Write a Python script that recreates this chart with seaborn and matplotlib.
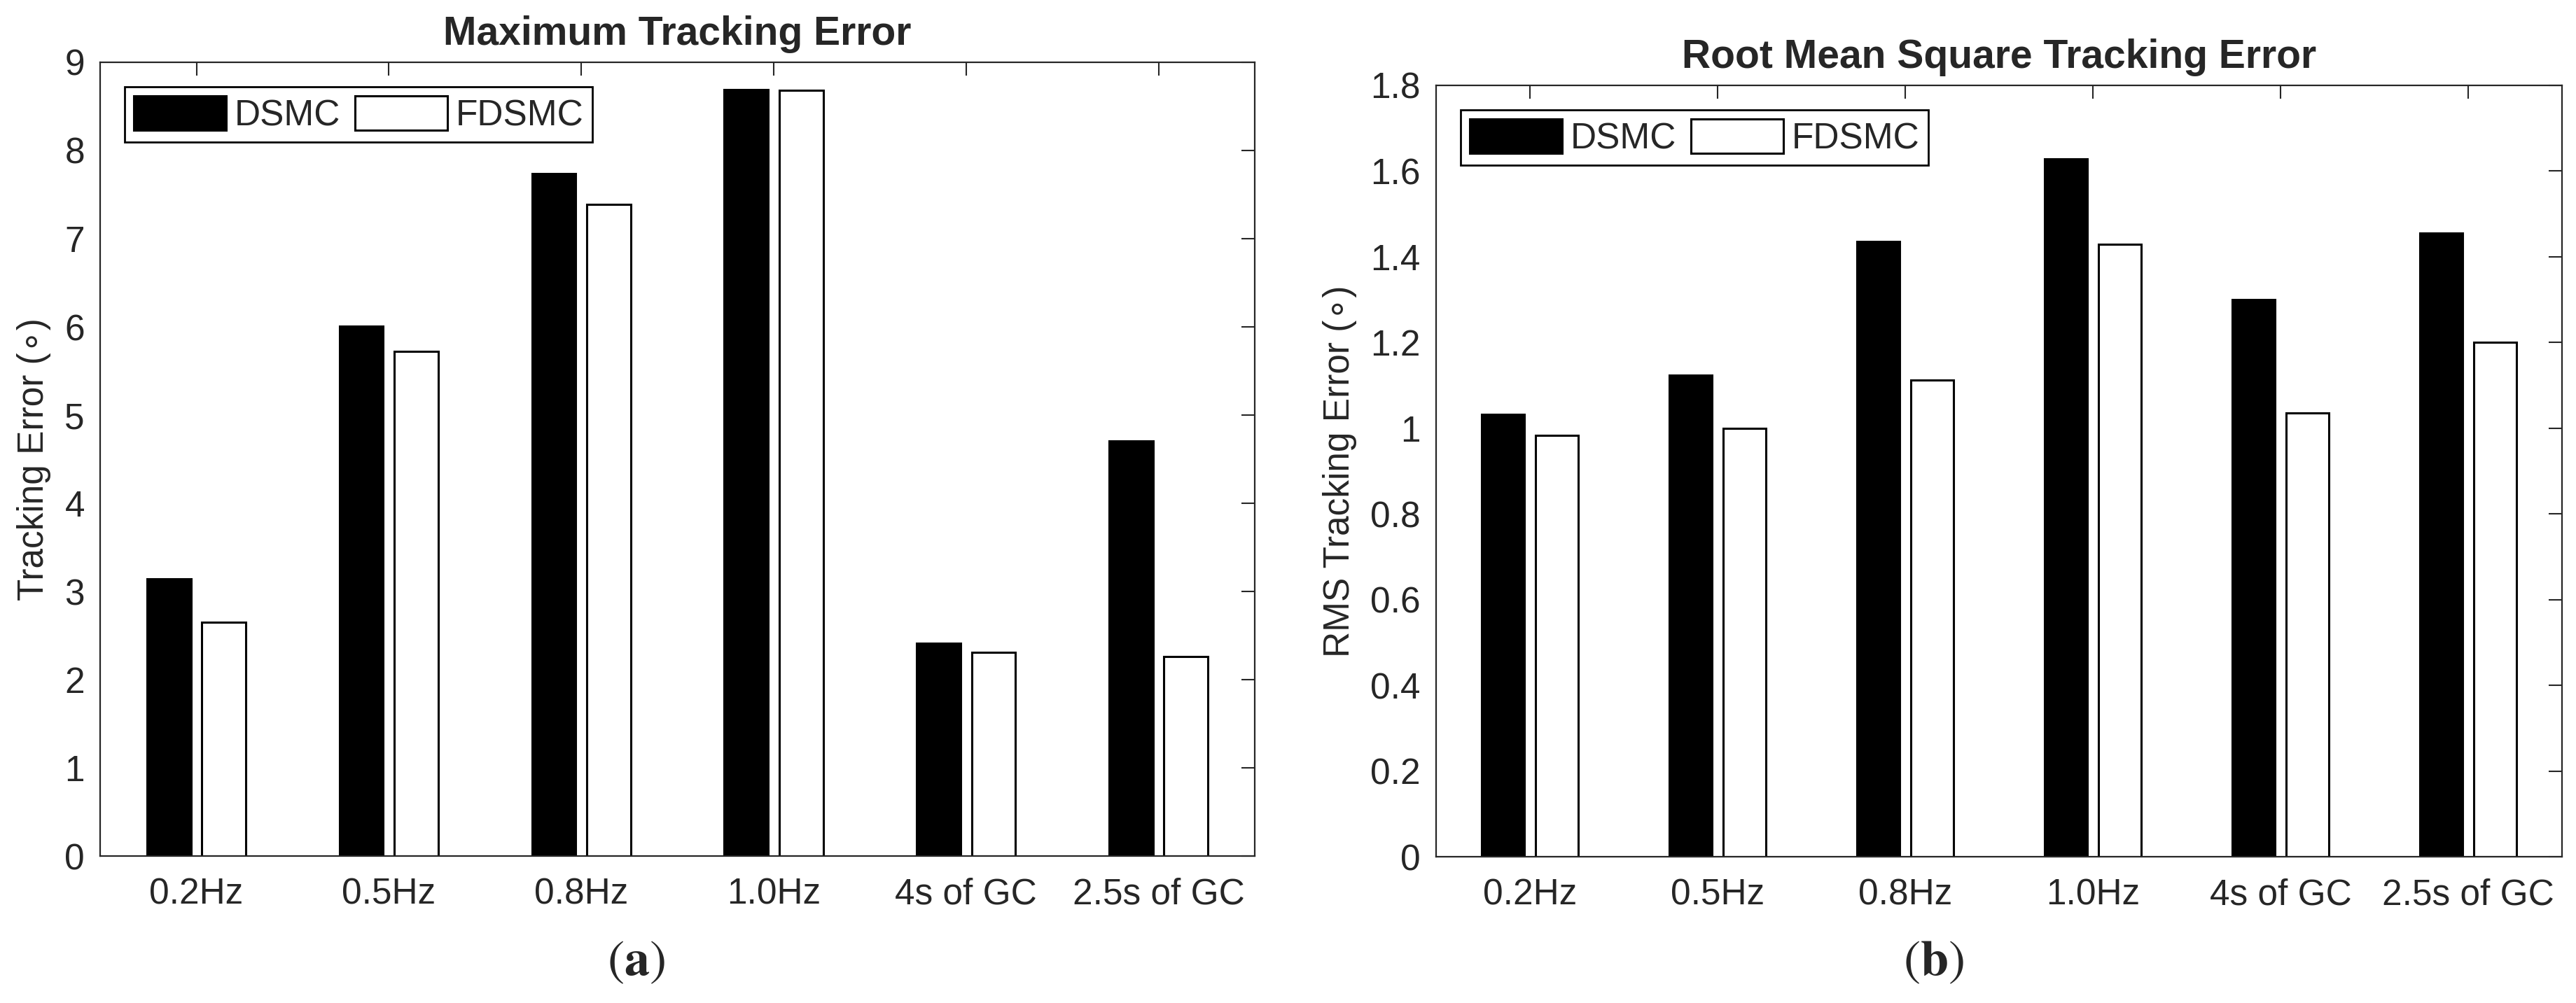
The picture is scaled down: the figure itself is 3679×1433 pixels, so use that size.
import pandas as pd
import matplotlib
matplotlib.use('Agg')
import matplotlib.pyplot as plt
import seaborn as sns
from matplotlib.ticker import FuncFormatter

conditions = ['0.2Hz', '0.5Hz', '0.8Hz', '1.0Hz', '4s of GC', '2.5s of GC']
methods = ['DSMC', 'FDSMC']

# maximum tracking error (deg)
max_dsmc = [3.14, 6.01, 7.74, 8.69, 2.41, 4.71]
max_fdsmc = [2.65, 5.72, 7.39, 8.68, 2.31, 2.26]

# root mean square tracking error (deg)
rms_dsmc = [1.033, 1.124, 1.436, 1.628, 1.300, 1.456]
rms_fdsmc = [0.984, 1.000, 1.113, 1.429, 1.036, 1.200]

max_ticks = [0, 1, 2, 3, 4, 5, 6, 7, 8, 9]
rms_ticks = [0, 0.2, 0.4, 0.6, 0.8, 1.0, 1.2, 1.4, 1.6, 1.8]

sns.set_style('white')
plt.rcParams['font.family'] = ['Liberation Sans', 'DejaVu Sans']

GREY = '#262626'
FS = 37


def long_table(dsmc, fdsmc):
    return pd.DataFrame({
        'Condition': conditions * 2,
        'Method': [methods[0]] * len(dsmc) + [methods[1]] * len(fdsmc),
        'Value': dsmc + fdsmc,
    })


def draw_panel(ax, df, ticks, title, ylabel):
    sns.barplot(data=df, x='Condition', y='Value', hue='Method',
                palette={'DSMC': 'black', 'FDSMC': 'white'},
                edgecolor='black', linewidth=2.2, width=0.571, gap=0.2,
                errorbar=None, ax=ax)
    ax.set_axisbelow(False)
    ax.set_xlim(-0.5, len(conditions) - 0.5)
    ax.set_ylim(ticks[0], ticks[-1])
    ax.set_yticks(ticks)
    ax.yaxis.set_major_formatter(FuncFormatter(lambda v, p: f'{v:g}'))
    ax.set_xlabel('')
    ax.set_ylabel(ylabel, fontsize=FS, color=GREY, labelpad=14)
    ax.set_title(title, fontsize=41, fontweight='bold', pad=18)
    ax.tick_params(axis='both', which='both', direction='in', top=True, right=True,
                   length=13.5, width=1.5, color=GREY, labelcolor=GREY,
                   labelsize=FS)
    ax.tick_params(axis='x', pad=22)
    ax.tick_params(axis='y', pad=16)
    for sp in ax.spines.values():
        sp.set_color(GREY)
        sp.set_linewidth(1.6)
        sp.set_visible(True)
    handles, labels = ax.get_legend_handles_labels()
    leg = ax.legend(handles, labels, loc='upper left', ncol=2, fontsize=FS,
                    handlelength=2.57, handleheight=1.11, handletextpad=0.23,
                    columnspacing=0.4, borderpad=0.25, borderaxespad=0.68,
                    fancybox=False, edgecolor='black', framealpha=1)
    leg.get_frame().set_linewidth(2)


fig = plt.figure(figsize=(36.79, 14.33), dpi=100)
ax1 = fig.add_axes([0.0389, 0.1465, 0.4482, 0.7914])
ax2 = fig.add_axes([0.5575, 0.1458, 0.4371, 0.7691])

draw_panel(ax1, long_table(max_dsmc, max_fdsmc), max_ticks,
           'Maximum Tracking Error', 'Tracking Error (\u2218)')
draw_panel(ax2, long_table(rms_dsmc, rms_fdsmc), rms_ticks,
           'Root Mean Square Tracking Error', 'RMS Tracking Error (\u2218)')

fig.text(0.247, 0.0279, r'$(\mathbf{a})$', math_fontfamily='stix',
         fontsize=52, ha='center', va='baseline')
fig.text(0.7505, 0.0279, r'$(\mathbf{b})$', math_fontfamily='stix',
         fontsize=52, ha='center', va='baseline')

fig.savefig('out.png', dpi=100, facecolor='white')
